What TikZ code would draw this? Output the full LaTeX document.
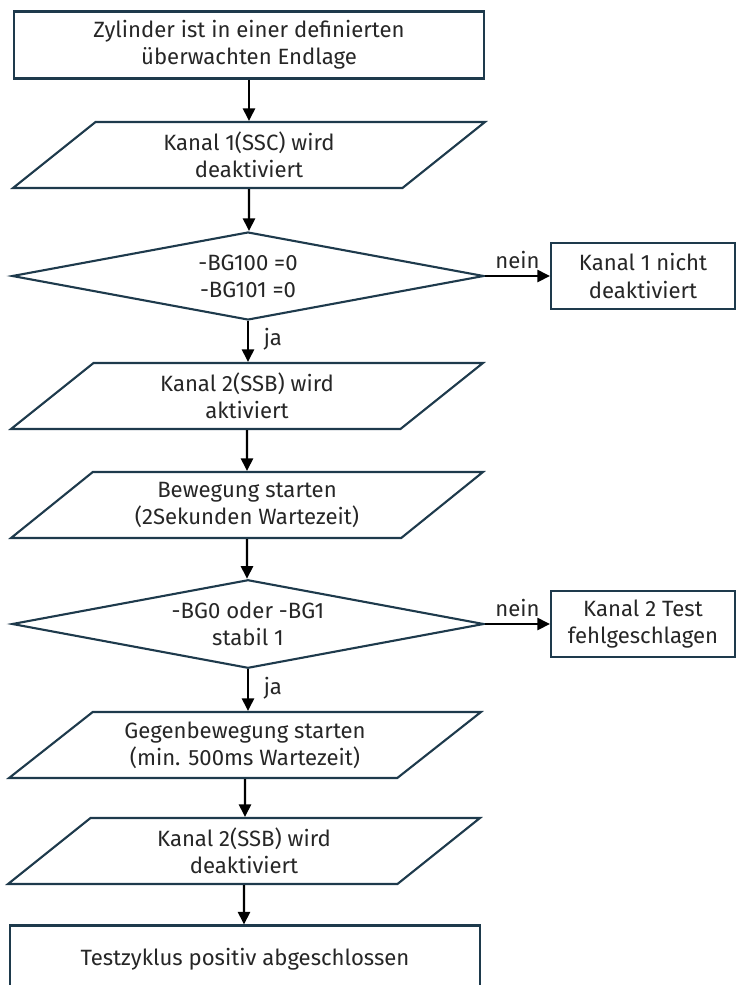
\documentclass[tikz,border=0pt]{standalone}
\usepackage{fontspec}
\setmainfont{Fira Sans}
\usetikzlibrary{shapes.geometric,arrows.meta}

\definecolor{rand}{HTML}{1E3A4C}
\definecolor{schrift}{HTML}{262626}

\tikzset{
    grund/.style={draw=rand, line width=1.2pt, text=schrift, align=center,
        font=\fontsize{12.6}{15.4}\selectfont},
    kasten/.style={grund, rectangle, minimum width=9.4cm, minimum height=1.34cm},
    meldung/.style={grund, rectangle, minimum width=3.68cm, minimum height=1.32cm},
    eingabe/.style={grund, trapezium, trapezium left angle=35, trapezium right angle=145,
        trapezium stretches body, minimum width=9.44cm, minimum height=1.32cm},
    abfrage/.style={grund, diamond, aspect=5, minimum width=9.44cm, minimum height=1.76cm},
    pfeil/.style={-{Triangle[length=2.5mm,width=2.4mm]}, line width=1.3pt, black},
    marke/.style={text=schrift, font=\fontsize{12.6}{15.4}\selectfont}
}

\begin{document}
\begin{tikzpicture}[x=0.02cm, y=-0.02cm]
                \useasboundingbox (0,0) rectangle (736,985);
                % Ablauf
                \node[kasten] (start) at (249,45) {Zylinder ist in einer definierten\\überwachten Endlage};
                \node[eingabe] (k1aus) at (249,155) {Kanal 1(SSC) wird\\deaktiviert};
                \node[abfrage] (pruef1) at (248,276) {-BG100 =0\\-BG101 =0};
                \node[meldung] (fehler1) at (643,276) {Kanal 1 nicht\\deaktiviert};
                \node[eingabe] (k2an) at (247,396) {Kanal 2(SSB) wird\\aktiviert};
                \node[eingabe] (bewegung) at (247,505) {Bewegung starten\\(2Sekunden Wartezeit)};
                \node[abfrage] (pruef2) at (248,624) {-BG0 oder -BG1\\stabil 1};
                \node[meldung] (fehler2) at (643,624) {Kanal 2 Test\\fehlgeschlagen};
                \node[eingabe] (gegen) at (245,745) {Gegenbewegung starten\\(min. 500ms Wartezeit)};
                \node[eingabe] (k2aus) at (244,851) {Kanal 2(SSB) wird\\deaktiviert};
                \node[kasten] (ende) at (245,959) {Testzyklus positiv abgeschlossen};
                % Pfeile
                \draw[pfeil] (start) -- (start |- k1aus.north);
                \draw[pfeil] (k1aus) -- (k1aus |- pruef1.north);
                \draw[pfeil] (pruef1) -- node[marke, right=5pt, pos=0.45] {ja} (pruef1 |- k2an.north);
                \draw[pfeil] (pruef1) -- node[marke, above] {nein} (fehler1);
                \draw[pfeil] (k2an) -- (k2an |- bewegung.north);
                \draw[pfeil] (bewegung) -- (bewegung |- pruef2.north);
                \draw[pfeil] (pruef2) -- node[marke, right=5pt, pos=0.45] {ja} (pruef2 |- gegen.north);
                \draw[pfeil] (pruef2) -- node[marke, above] {nein} (fehler2);
                \draw[pfeil] (gegen) -- (gegen |- k2aus.north);
                \draw[pfeil] (k2aus) -- (k2aus |- ende.north);
\end{tikzpicture}
\end{document}
